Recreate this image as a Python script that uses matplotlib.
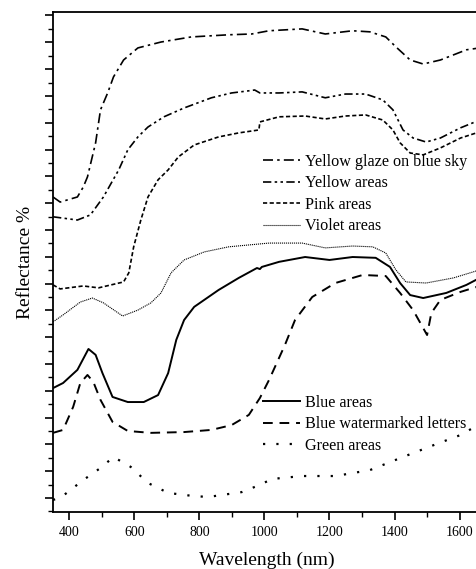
import matplotlib

matplotlib.use("Agg", force=True)
import matplotlib.pyplot as plt
from matplotlib.lines import Line2D
from matplotlib.ticker import MultipleLocator, NullFormatter

# curves (wavelength nm, reflectance in arbitrary units; one major y tick = 10)
YGLAZE_WL = [350, 372, 425, 443, 456, 481, 496, 518, 536, 567, 611, 682, 775, 890, 961, 1014, 1116, 1187,
             1271, 1324, 1373, 1404, 1448, 1488, 1541, 1621, 1662]
YGLAZE_R = [112.3, 110.4, 112.3, 116.0, 119.8, 132.5, 144.8, 151.1, 157.1, 163.4, 167.9, 170.1, 172.0,
            172.8, 173.1, 174.3, 175.0, 173.1, 174.3, 173.9, 172.0, 168.3, 163.4, 161.9, 163.4, 167.2, 167.9]

YELLOW_WL = [350, 425, 465, 505, 552, 580, 611, 642, 691, 753, 837, 899, 952, 970, 986, 1045, 1116, 1187,
             1249, 1311, 1364, 1395, 1426, 1457, 1497, 1541, 1603, 1662]
YELLOW_R = [104.9, 103.7, 105.6, 112.3, 122.4, 129.9, 134.7, 138.4, 142.2, 145.5, 149.3, 151.1, 151.9,
            152.2, 151.1, 151.1, 151.5, 149.3, 150.7, 150.7, 148.5, 144.8, 137.3, 134.3, 132.8, 134.3,
            138.1, 141.0]

PINK_WL = [350, 372, 443, 490, 567, 583, 598, 620, 642, 673, 704, 735, 784, 859, 921, 983, 986, 1045,
           1125, 1187, 1249, 1311, 1364, 1395, 1417, 1448, 1488, 1541, 1603, 1662]
PINK_R = [79.5, 78.0, 79.1, 78.4, 80.6, 84.0, 93.7, 103.7, 112.3, 118.7, 122.4, 127.2, 131.7, 134.7,
          136.2, 137.3, 140.3, 142.2, 142.5, 141.4, 142.5, 142.9, 141.0, 137.3, 132.5, 128.7, 128.0,
          130.6, 134.3, 136.6]

VIOLET_WL = [350, 381, 434, 471, 505, 564, 611, 651, 682, 713, 753, 815, 890, 952, 1014, 1116, 1187,
             1271, 1333, 1373, 1404, 1435, 1497, 1581, 1662]
VIOLET_R = [65.7, 68.3, 73.1, 74.6, 72.8, 67.9, 70.1, 72.8, 76.5, 84.0, 88.8, 91.8, 93.7, 94.4, 95.1,
            95.1, 93.3, 94.0, 93.7, 91.4, 85.1, 80.6, 80.2, 82.1, 85.1]

BLUE_WL = [350, 381, 425, 459, 481, 502, 533, 580, 629, 673, 704, 729, 753, 784, 859, 921, 977, 986,
           992, 1045, 1125, 1200, 1271, 1342, 1386, 1417, 1448, 1488, 1559, 1621, 1662]
BLUE_R = [41.0, 42.9, 47.8, 55.6, 53.4, 46.6, 37.7, 35.8, 35.8, 38.4, 46.6, 59.0, 66.4, 71.3, 77.6,
          82.1, 85.8, 85.4, 86.2, 88.1, 89.9, 88.8, 89.9, 89.6, 86.2, 80.2, 75.7, 74.6, 76.5, 79.5, 82.1]

WATER_WL = [350, 381, 412, 434, 456, 474, 496, 533, 580, 651, 753, 837, 899, 952, 986, 1014, 1063, 1094,
            1147, 1218, 1302, 1373, 1417, 1457, 1500, 1513, 1541, 1603, 1662]
WATER_R = [24.3, 25.4, 34.0, 42.9, 45.9, 43.3, 36.6, 28.4, 25.0, 24.3, 24.6, 25.4, 27.2, 31.0, 37.3,
           44.0, 57.1, 66.4, 75.0, 80.2, 83.2, 82.8, 76.5, 70.1, 60.8, 69.0, 73.9, 76.9, 79.1]

GREEN_WL = [350, 372, 443, 496, 536, 589, 642, 704, 784, 828, 930, 986, 1023, 1116, 1218, 1324, 1426,
            1528, 1603, 1662]
GREEN_R = [-0.7, 0.0, 6.7, 11.2, 15.3, 11.6, 5.6, 1.9, 0.7, 0.4, 2.2, 4.9, 7.1, 8.2, 8.2, 10.4, 15.3,
           20.1, 23.5, 27.6]

plt.rcParams.update({"font.family": ["Liberation Serif", "DejaVu Serif"]})

fig = plt.figure(figsize=(4.76, 5.69), dpi=100)
ax = fig.add_axes([53 / 476, 1 - 512 / 569, 1 - 53 / 476 + 0.01, 500 / 569])

top = [
    (YGLAZE_WL, YGLAZE_R, "Yellow glaze on blue sky", (0, (6, 2.5, 1.5, 2.5)), 1.2),
    (YELLOW_WL, YELLOW_R, "Yellow areas", (0, (5, 2, 1.5, 2, 1.5, 2)), 1.2),
    (PINK_WL, PINK_R, "Pink areas", (0, (2.5, 1.5)), 1.2),
    (VIOLET_WL, VIOLET_R, "Violet areas", (0, (1, 0.8)), 0.8),
]
bottom = [
    (BLUE_WL, BLUE_R, "Blue areas", "-", 1.4),
    (WATER_WL, WATER_R, "Blue watermarked letters", (0, (5, 3.5)), 1.4),
    (GREEN_WL, GREEN_R, "Green areas", (0, (1, 5)), 1.6),
]

h_top, h_bot = [], []
for wl, r, label, ls, lw in top:
    ax.plot(wl, r, color="black", linestyle=ls, linewidth=lw)
    h_top.append(Line2D([], [], color="black", linestyle=ls, linewidth=lw, label=label))
for wl, r, label, ls, lw in bottom:
    ax.plot(wl, r, color="black", linestyle=ls, linewidth=lw)
    h_bot.append(Line2D([], [], color="black", linestyle=ls, linewidth=lw, label=label))

ax.set_xlim(350, 1665)
ax.set_ylim(-5.22, 181.3)
ax.xaxis.set_major_locator(MultipleLocator(200))
ax.xaxis.set_minor_locator(MultipleLocator(100))
ax.yaxis.set_major_locator(MultipleLocator(10))
ax.yaxis.set_minor_locator(MultipleLocator(5))
ax.yaxis.set_major_formatter(NullFormatter())
ax.tick_params(which="major", direction="out", length=6, width=1.2, labelsize=10, pad=4)
ax.tick_params(which="minor", direction="out", length=3.5, width=1.0)
ax.spines["right"].set_visible(False)
for side in ("left", "bottom", "top"):
    ax.spines[side].set_linewidth(1.3)

ax.set_xlabel("Wavelength (nm)", fontsize=14, labelpad=9)
ax.set_ylabel("Reflectance %", fontsize=14, labelpad=4)

legend_kw = dict(bbox_transform=fig.transFigure, frameon=False, fontsize=11.6, handlelength=2.3,
                 handletextpad=0.3, labelspacing=0.34, borderpad=0, borderaxespad=0, loc="upper left")
leg1 = ax.legend(handles=h_top, bbox_to_anchor=(263 / 476, 1 - 154 / 569), **legend_kw)
ax.add_artist(leg1)
ax.legend(handles=h_bot, bbox_to_anchor=(263 / 476, 1 - 395 / 569), **legend_kw)

fig.savefig("out.png", dpi=100)
plt.close(fig)
